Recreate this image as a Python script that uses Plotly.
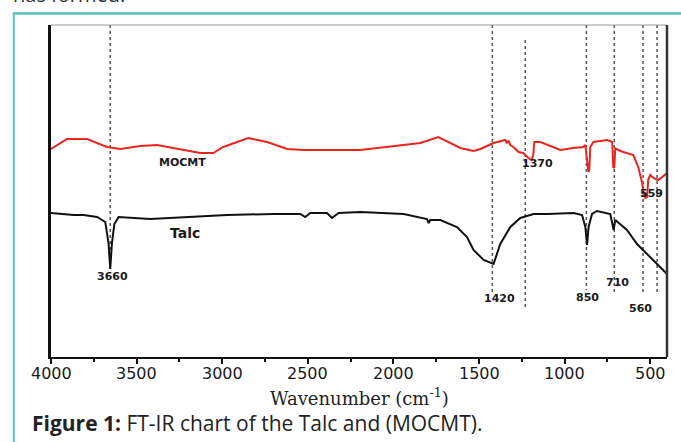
import plotly.graph_objects as go

# ---- data (x: wavenumber cm-1, y: arbitrary transmittance units) ----
mocmt_wn = [4000, 3906, 3790, 3673, 3595, 3478, 3381, 3245, 3128, 3052, 2994, 2848, 2738,
            2621, 2526, 2193, 2036, 1843, 1738, 1668, 1609, 1533, 1492, 1416, 1346, 1337,
            1327, 1317, 1299, 1270, 1241, 1212, 1194, 1183, 1177, 1142, 1066, 1025, 949,
            891, 879, 867, 861, 856, 850, 832, 751, 722, 716, 710, 704, 687, 657, 599,
            570, 547, 541, 529, 518, 512, 500, 482, 453, 401]
mocmt_t = [208, 218, 218, 210, 208, 211, 212, 208, 204, 204, 210, 219, 215,
           208, 207, 207, 210, 214, 220, 214, 209, 206, 208, 214, 217, 213.7,
           216.3, 212, 210, 205, 204, 199, 197, 202, 215, 215, 210, 207, 209,
           210, 212, 190, 185, 187, 210, 215, 217, 215, 190, 189, 209, 207, 205, 202,
           190, 174, 167, 159, 160, 177, 182, 179, 177, 184]

talc_wn = [4000, 3868, 3810, 3731, 3683, 3664, 3654, 3644, 3630, 3605, 3420, 3186, 2972,
           2702, 2544, 2515, 2486, 2388, 2359, 2320, 2193, 1940, 1804, 1794, 1785, 1726,
           1629, 1570, 1532, 1473, 1415, 1376, 1317, 1259, 1200, 1181, 1103, 947, 898,
           879, 869, 860, 840, 811, 733, 714, 704, 685, 636, 577, 500, 402]
talc_t = [144, 142, 142, 140, 135, 114, 88, 114, 133, 140, 138, 140, 142,
          143, 143, 140, 144, 144, 139, 144, 145, 143, 138, 134, 137, 137,
          130, 120, 107, 97, 93, 113, 130, 139, 142, 143, 143, 144, 142,
          130, 112, 130, 143, 146, 143, 127, 137, 134, 127, 113, 100, 83]

# dotted guide lines: wavenumber, upper and lower extent (data units)
guide_wn = [3654, 1422, 1230, 873, 710, 542, 460]
guide_top = [332, 332, 317, 332, 332, 332, 332]
guide_bottom = [89, 65, 47, 67, 64, 62, 64]

# text labels on the chart: text, wavenumber, level
label_text = ["MOCMT", "Talc", "3660", "1370", "559", "1420", "850", "710", "560"]
label_wn = [3233, 3216, 3642, 1160, 490, 1382, 868, 694, 554]
label_t = [195, 124, 81, 194, 164, 59, 60, 75, 49]
label_size = [11, 14, 11, 11, 11, 11, 11, 11, 11]

tick_vals = [4000, 3500, 3000, 2500, 2000, 1500, 1000, 500]
tick_text = [str(v) for v in tick_vals]

# ---- figure ----
L, R, T, B = 51, 14, 25, 85
W, H = 681, 442
PW, PH = W - L - R, H - T - B


def px_x(p):
    return (p - L) / PW


def px_y(p):
    return (H - B - p) / PH


fig = go.Figure()

for wn, top, bot in zip(guide_wn, guide_top, guide_bottom):
    fig.add_trace(go.Scatter(x=[wn, wn], y=[top, bot], mode="lines",
                             line=dict(color="#555555", width=1.5, dash="dot"),
                             hoverinfo="skip", showlegend=False))

fig.add_trace(go.Scatter(x=mocmt_wn, y=mocmt_t, mode="lines", name="MOCMT",
                         line=dict(color="#e8261f", width=2), showlegend=False))
fig.add_trace(go.Scatter(x=talc_wn, y=talc_t, mode="lines", name="Talc",
                         line=dict(color="#111111", width=2), showlegend=False))

for txt, wn, t, s in zip(label_text, label_wn, label_t, label_size):
    fig.add_annotation(x=wn, y=t, text=f"<b>{txt}</b>", showarrow=False,
                       font=dict(family="DejaVu Sans", size=s, color="#1a1a1a"),
                       xanchor="center", yanchor="middle")

# tick labels (placed just under the axis)
for v, txt in zip(tick_vals, tick_text):
    fig.add_annotation(x=v, xref="x", yref="paper", y=px_y(373.5), text=txt,
                       showarrow=False,
                       font=dict(family="DejaVu Sans", size=16, color="#1a1a1a"),
                       xanchor="center", yanchor="middle")

# axis title
fig.add_annotation(xref="paper", yref="paper", x=px_x(359), y=px_y(397),
                   text="Wavenumber (cm<sup>-1</sup>)", showarrow=False,
                   font=dict(family="DejaVu Serif", size=18, color="#222222"),
                   xanchor="center", yanchor="middle")

# caption
fig.add_annotation(xref="paper", yref="paper", x=px_x(30), y=px_y(423),
                   text="<b>Figure 1:</b> FT-IR chart of the Talc and (MOCMT).",
                   showarrow=False,
                   font=dict(family="Open Sans", size=21, color="#222222"),
                   xanchor="left", yanchor="middle")

# cut-off text above the box
fig.add_annotation(xref="paper", yref="paper", x=px_x(11), y=px_y(-5.5),
                   text="has formed.", showarrow=False,
                   font=dict(family="Open Sans", size=20, color="#333333"),
                   xanchor="left", yanchor="middle")

shapes = [
    # teal box border
    dict(type="line", xref="paper", yref="paper", x0=px_x(13), x1=px_x(700),
         y0=px_y(13.5), y1=px_y(13.5), line=dict(color="#52c5b5", width=2.5)),
    dict(type="line", xref="paper", yref="paper", x0=px_x(13.8), x1=px_x(13.8),
         y0=px_y(12.5), y1=px_y(460), line=dict(color="#52c5b5", width=2)),
    # frame top and right
    dict(type="line", xref="paper", yref="paper", x0=0, x1=1, y0=1, y1=1,
         line=dict(color="#9a9a9a", width=1.2)),
    dict(type="line", xref="paper", yref="paper", x0=1, x1=1, y0=0, y1=1,
         line=dict(color="#333333", width=2.5)),
]

fig.update_layout(
    width=W, height=H,
    margin=dict(l=L, r=R, t=T, b=B),
    paper_bgcolor="white", plot_bgcolor="white",
    shapes=shapes,
    xaxis=dict(range=[4000, 402], tickvals=tick_vals, showticklabels=False,
               showgrid=False, zeroline=False, showline=True,
               linecolor="#111111", linewidth=2,
               ticks="outside", ticklen=5, tickwidth=1.5, tickcolor="#111111",
               minor=dict(ticks="outside", ticklen=3, tickwidth=1.5,
                          tickcolor="#111111", dtick=250, tick0=500)),
    yaxis=dict(range=[0, PH], showgrid=False, zeroline=False, showline=True,
               linecolor="#111111", linewidth=2.5, showticklabels=False,
               ticks=""),
)

fig.write_html("out.html")
